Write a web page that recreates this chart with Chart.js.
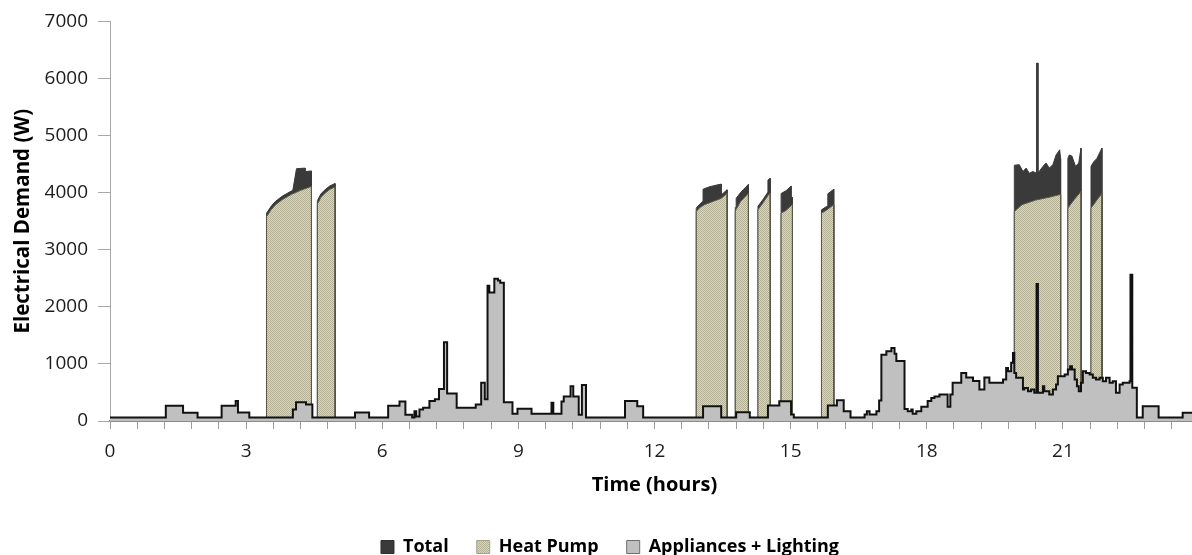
<!DOCTYPE html>
<html><head><meta charset="utf-8">
<script src="https://cdn.jsdelivr.net/npm/chart.js@4.4.1/dist/chart.umd.min.js"></script>
<style>
html,body{margin:0;padding:0;background:#fff;overflow:hidden;}
#wrap{position:relative;width:1210px;height:570px;}
canvas{display:block;}
</style></head><body>
<div id="wrap"><canvas id="c" width="1210" height="570" style="width:1210px;height:570px"></canvas></div>
<script>
// ---------- DATA (hours, watts) ----------
const legendLabels = ['Total', 'Heat Pump', 'Appliances + Lighting'];
const yTickLabels = [0, 1000, 2000, 3000, 4000, 5000, 6000, 7000];
const xTickLabels = [0, 3, 6, 9, 12, 15, 18, 21];

// Appliances + Lighting: each value holds until the next time
const appHours = [0, 1.23, 1.61, 1.93, 2.46, 2.77, 2.82, 3.07, 4.03, 4.10,
 4.32, 4.46, 5.40, 5.71, 6.13, 6.38, 6.51, 6.66, 6.71, 6.75,
 6.82, 6.90, 7.04, 7.16, 7.25, 7.36, 7.43, 7.64, 8.06, 8.18,
 8.26, 8.32, 8.36, 8.47, 8.55, 8.60, 8.68, 8.87, 8.98, 9.29,
 9.73, 9.77, 9.95, 10.00, 10.15, 10.21, 10.33, 10.40, 10.49, 11.35,
 11.62, 11.75, 13.07, 13.47, 13.80, 14.10, 14.50, 14.75, 15.01, 15.07,
 15.82, 16.02, 16.17, 16.32, 16.63, 16.68, 16.74, 16.89, 16.95, 17.00,
 17.11, 17.22, 17.29, 17.33, 17.51, 17.58, 17.66, 17.69, 17.77, 17.88,
 18.02, 18.10, 18.17, 18.28, 18.46, 18.52, 18.57, 18.76, 18.87, 19.02,
 19.16, 19.27, 19.38, 19.68, 19.75, 19.79, 19.86, 19.90, 19.93, 19.97,
 20.12, 20.15, 20.23, 20.30, 20.37, 20.42, 20.45, 20.56, 20.59, 20.70,
 20.78, 20.85, 20.89, 21.04, 21.11, 21.16, 21.20, 21.26, 21.31, 21.35,
 21.40, 21.44, 21.51, 21.59, 21.66, 21.73, 21.81, 21.88, 21.95, 22.03,
 22.10, 22.17, 22.25, 22.32, 22.47, 22.49, 22.53, 22.63, 22.76, 23.11,
 23.64, 24];
const appWatts = [60, 265, 145, 60, 265, 350, 150, 60, 200, 330,
 290, 60, 150, 60, 265, 340, 110, 60, 170, 80,
 200, 230, 350, 380, 560, 1380, 480, 230, 290, 670,
 380, 2370, 2250, 2490, 2460, 2420, 330, 125, 215, 125,
 320, 125, 340, 430, 610, 430, 110, 630, 60, 350,
 260, 60, 260, 60, 155, 60, 270, 345, 115, 60,
 270, 365, 170, 60, 115, 170, 115, 170, 360, 1160,
 1220, 1280, 1180, 1050, 210, 170, 200, 125, 170, 250,
 350, 405, 430, 465, 250, 465, 670, 840, 760, 700,
 550, 760, 670, 726, 930, 870, 1020, 1190, 840, 756,
 551, 580, 522, 551, 493, 2400, 493, 609, 522, 464,
 551, 639, 784, 814, 901, 960, 901, 726, 609, 522,
 668, 872, 843, 814, 756, 726, 756, 697, 756, 668,
 697, 493, 639, 668, 697, 2560, 581, 60, 260, 60,
 143, 143];

// Heat Pump: outline points of each running period (null = off)
const hpHours = [3.45, 3.45, 3.55, 3.65, 3.80, 4.00, 4.20, 4.44, 4.44, 4.50,
 4.57, 4.57, 4.65, 4.75, 4.85, 4.96, 4.96, 5.00,
 12.92, 12.92, 13.00, 13.10, 13.30, 13.47, 13.60, 13.60, 13.70,
 13.78, 13.78, 13.90, 14.07, 14.07, 14.20,
 14.28, 14.28, 14.40, 14.50, 14.55, 14.55, 14.70,
 14.79, 14.79, 14.90, 15.01, 15.04, 15.04, 15.50,
 15.68, 15.68, 15.80, 15.95, 15.95, 19.00,
 19.93, 19.93, 20.10, 20.40, 20.70, 20.95, 20.95, 21.05,
 21.11, 21.11, 21.25, 21.40, 21.40, 21.50,
 21.62, 21.62, 21.75, 21.86, 21.86];
const hpWatts = [0, 3580, 3700, 3790, 3880, 3970, 4040, 4110, 0, null,
 0, 3800, 3920, 4000, 4060, 4100, 0, null,
 0, 3670, 3740, 3790, 3850, 3900, 3990, 0, null,
 0, 3680, 3850, 3990, 0, null,
 0, 3700, 3830, 3950, 3990, 0, null,
 0, 3640, 3690, 3770, 3800, 0, null,
 0, 3640, 3700, 3790, 0, null,
 0, 3670, 3790, 3870, 3920, 3970, 0, null,
 0, 3730, 3880, 4020, 0, null,
 0, 3730, 3870, 3990, 0];

// Total demand while the heat pump runs (elsewhere equal to appliances)
const totHours = [3.45, 3.45, 3.55, 3.65, 3.80, 4.00, 4.03, 4.11, 4.30, 4.30, 4.44, 4.44, 4.50,
 4.57, 4.57, 4.65, 4.75, 4.85, 4.96, 4.96, 5.00,
 12.92, 12.92, 13.00, 13.07, 13.07, 13.20, 13.35, 13.47, 13.47, 13.60, 13.60, 13.70,
 13.78, 13.78, 13.80, 13.80, 13.90, 14.07, 14.07, 14.20,
 14.28, 14.28, 14.40, 14.50, 14.50, 14.55, 14.55, 14.70,
 14.79, 14.79, 14.90, 15.01, 15.01, 15.04, 15.04, 15.50,
 15.68, 15.68, 15.82, 15.82, 15.95, 15.95, 19.00,
 19.93, 19.93, 20.04, 20.12, 20.19, 20.26, 20.34, 20.42, 20.42, 20.45, 20.45, 20.56, 20.63, 20.70, 20.78, 20.85, 20.93, 20.95, 20.95, 21.05,
 21.11, 21.11, 21.14, 21.20, 21.28, 21.35, 21.40, 21.40, 21.50,
 21.62, 21.62, 21.68, 21.75, 21.86, 21.86];
const totWatts = [0, 3640, 3760, 3850, 3940, 4030, 4045, 4420, 4430, 4370, 4380, 0, null,
 0, 3860, 3980, 4060, 4120, 4160, 0, null,
 0, 3730, 3800, 3850, 4060, 4100, 4130, 4150, 3960, 4050, 0, null,
 0, 3740, 3760, 3900, 4005, 4145, 0, null,
 0, 3760, 3890, 4010, 4220, 4250, 0, null,
 0, 3985, 4035, 4115, 3885, 3915, 0, null,
 0, 3700, 3770, 3980, 4060, 0, null,
 0, 4480, 4490, 4370, 4430, 4340, 4370, 4340, 6270, 6270, 4340, 4460, 4520, 4430, 4490, 4660, 4750, 4600, 0, null,
 0, 4600, 4660, 4640, 4460, 4520, 4780, 0, null,
 0, 4460, 4540, 4600, 4780, 0];

// ---------- RENDER ----------
const pts = (hs, ws) => hs.map((h, i) => ({x: h, y: ws[i]}));

function hatchPattern() {
  const c = document.createElement('canvas');
  c.width = 4; c.height = 4;
  const g = c.getContext('2d');
  g.fillStyle = '#dad7bd';
  g.fillRect(0, 0, 4, 4);
  g.fillStyle = '#b3b095';
  for (let y = 0; y < 4; y++) for (let x = 0; x < 4; x++) {
    if ((x + y) % 2 === 0) g.fillRect(x, y, 1, 1);
  }
  return g.createPattern(c, 'repeat');
}

const ctx = document.getElementById('c').getContext('2d');
const hatch = hatchPattern();
const FONT = 'Open Sans';

new Chart(ctx, {
  type: 'line',
  data: {
    datasets: [
      { label: legendLabels[0], data: pts(totHours, totWatts), fill: 'origin',
        backgroundColor: '#3a3a3a', borderColor: '#3a3a3a', borderWidth: 1,
        pointRadius: 0, tension: 0, order: 3, spanGaps: false },
      { label: legendLabels[1], data: pts(hpHours, hpWatts), fill: 'origin',
        backgroundColor: hatch, borderColor: '#5a5846', borderWidth: 1,
        pointRadius: 0, tension: 0, order: 2, spanGaps: false },
      { label: legendLabels[2], data: pts(appHours, appWatts), fill: 'origin',
        stepped: true, backgroundColor: '#c0c0c0', borderColor: '#111', borderWidth: 2,
        pointRadius: 0, tension: 0, order: 1 }
    ]
  },
  options: {
    responsive: false,
    animation: false,
    devicePixelRatio: 1,
    layout: { padding: { left: 20, right: 10, top: 21, bottom: 4 } },
    plugins: {
      tooltip: { enabled: false },
      legend: {
        position: 'bottom',
        labels: {
          boxWidth: 13, boxHeight: 13, padding: 28, color: '#000',
          font: { family: FONT, size: 18, weight: 'bold' },
          generateLabels(chart) {
            const items = Chart.defaults.plugins.legend.labels.generateLabels(chart);
            const strokes = ['#2e2e2e', '#a5a288', '#6e6e6e'];
            items.forEach(it => { it.lineWidth = 1; it.strokeStyle = strokes[it.datasetIndex]; });
            return items.sort((a, b) => a.datasetIndex - b.datasetIndex);
          }
        }
      }
    },
    scales: {
      x: {
        type: 'linear', min: 0, max: 24,
        border: { display: true, color: '#8e8c7a', width: 2 },
        grid: { display: true, drawOnChartArea: false, drawTicks: true, tickLength: 8, color: '#9c9c9c', lineWidth: 1 },
        ticks: {
          stepSize: 0.6, autoSkip: false, maxRotation: 0, minRotation: 0, padding: 11,
          color: '#1c1c1c', font: { family: FONT, size: 19 },
          callback(v) {
            const hit = xTickLabels.find(t => Math.abs(t - v) < 1e-6);
            return hit === undefined ? '' : String(hit);
          }
        },
        title: { display: true, text: 'Time (hours)', color: '#000',
          font: { family: FONT, size: 20, weight: 'bold' }, padding: { top: 0, bottom: 12.5 } },
        afterFit(s) { s.height = 89; }
      },
      y: {
        min: 0, max: 7000,
        border: { display: true, color: '#a8a8a8', width: 1 },
        grid: { display: true, drawOnChartArea: false, drawTicks: true, tickLength: 12, color: '#a8a8a8' },
        ticks: {
          stepSize: 1000, padding: 10, color: '#1c1c1c', font: { family: FONT, size: 19 },
          callback(v) { return yTickLabels.includes(v) ? String(v) : ''; }
        },
        title: { display: true, text: 'Electrical Demand (W)', color: '#000',
          font: { family: FONT, size: 20.5, weight: 'bold' }, padding: { top: -8.8, bottom: 0 } },
        afterFit(s) { s.width = 90; }
      }
    }
  }
});
</script>
</body></html>
